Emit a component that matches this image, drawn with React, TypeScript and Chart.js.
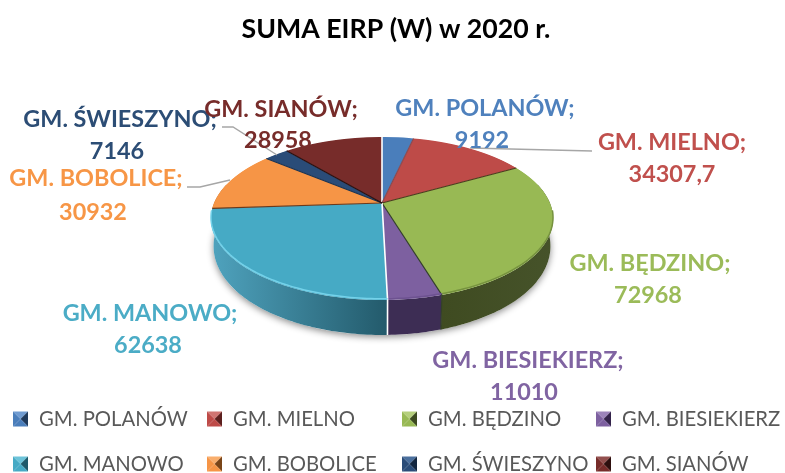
import React, { useEffect, useRef } from "react";
import { Chart, registerables } from "chart.js";

Chart.register(...registerables);

const chartTitle = "SUMA EIRP (W) w 2020 r.";
const categories = ["GM. POLANÓW", "GM. MIELNO", "GM. BĘDZINO", "GM. BIESIEKIERZ", "GM. MANOWO", "GM. BOBOLICE", "GM. ŚWIESZYNO", "GM. SIANÓW"];
const values = [9192, 34307.7, 72968, 11010, 62638, 30932, 7146, 28958];

// styles
const faceColors = ["#4a7ebb", "#be4b48", "#98b954", "#7d60a0", "#46aac5", "#f69546", "#2a4c78", "#772c2a"];
const textColors = ["#4f81bd", "#c0504d", "#9bbb59", "#8064a2", "#4bacc6", "#f79646", "#2c4d75", "#772c2a"];
const wallLeft = ["#3a6291", "#8f3a38", "#3f4b21", "#3d2d54", "#4fa3be", "#b96f30", "#1f3a5c", "#4f1d1c"];
const wallRight = ["#3a6291", "#8f3a38", "#46532a", "#3d2d54", "#235a6b", "#b96f30", "#1f3a5c", "#4f1d1c"];
const seamColors = ["#ffffff", "#8a4a50", "#4a3a1c", "#33402a", "#ffffff", "#6b3a1c", "#1c3350", "#2a1010"];
const rimColors = ["#5c90cc", "#cc5f5c", "#76923f", "#6d5290", "#74d2ea", "#f8a860", "#355c8c", "#843735"];
const markerLight = ["#6f9bd1", "#d07572", "#b5cf7c", "#9c84ba", "#6cc3d9", "#f9ae6d", "#4a6f9d", "#93504e"];
const markerDark = ["#1f3a5c", "#5c1f1e", "#3c4a1f", "#33234a", "#1f5a6b", "#7a4518", "#12263f", "#2e0f0e"];

// layout of texts: [centre x of name, middle y of name, centre x of value, middle y of value]
const labelLayout = [
  [485, 108, 482, 140],
  [672, 142, 672, 174],
  [650, 263, 648, 295],
  [528, 360, 524, 392],
  [150, 313, 148, 345],
  [96, 178, 93, 212],
  [120, 119, 117, 151],
  [281, 109, 278, 140],
];
const leaderLines = [
  [[592, 151], [470, 148]],
  [[222, 127], [233, 127], [277, 155]],
  [[187, 187], [200, 187], [230, 180]],
];
const legendColumns = [13, 207, 402, 596];
const legendRows = [419, 464];

// perspective of the pie plane
const CX = 382, CY = 203, K = 0.19, A = 78.55, B = 167.9;
const H_SIDE = 26, H_FRONT = 35;

const project = (ang: number) => {
  const X = Math.cos(ang), Y = Math.sin(ang);
  const w = 1 / (1 - K * Y);
  return { x: CX + B * X * w, y: CY + A * Y * w, Y };
};

const piePlugin = {
  id: "perspectivePie",
  beforeDatasetsDraw(chart: any) {
    const ctx: CanvasRenderingContext2D = chart.ctx;
    const arcs = chart.getDatasetMeta(0).data;
    const R = arcs[0].outerRadius, ex = arcs[0].x, ey = arcs[0].y;
    const W = chart.width;

    const wallBottom = (a: number) => {
      const p = project(a);
      return { x: CX + (p.x - CX) * 0.985, y: p.y + H_SIDE + (H_FRONT - H_SIDE) * Math.max(0, p.Y) };
    };

    // ground shadow
    ctx.save();
    ctx.shadowColor = "rgba(0,0,0,0.45)";
    ctx.shadowBlur = 7;
    ctx.shadowOffsetY = 2;
    ctx.fillStyle = "#ffffff";
    ctx.beginPath();
    for (let a = 0; a <= Math.PI + 0.001; a += 0.02) {
      const p = wallBottom(a);
      if (a === 0) ctx.moveTo(p.x, p.y); else ctx.lineTo(p.x, p.y);
    }
    ctx.closePath();
    ctx.fill();
    ctx.restore();

    // side walls
    arcs.forEach((el: any, i: number) => {
      const s = Math.max(el.startAngle, -0.25);
      const e = Math.min(el.endAngle, Math.PI + 0.25);
      if (e <= s) return;
      const n = Math.max(2, Math.ceil((e - s) / 0.02));
      const top: any[] = [], bot: any[] = [];
      for (let j = 0; j <= n; j++) {
        const a = s + ((e - s) * j) / n;
        top.push(project(a));
        bot.push(wallBottom(a));
      }
      const xs = top.map((p) => p.x);
      const g = ctx.createLinearGradient(Math.min(...xs), 0, Math.max(...xs), 0);
      g.addColorStop(0, wallLeft[i]);
      g.addColorStop(1, wallRight[i]);
      ctx.fillStyle = g;
      ctx.beginPath();
      top.forEach((p, j) => (j ? ctx.lineTo(p.x, p.y) : ctx.moveTo(p.x, p.y)));
      bot.reverse().forEach((p) => ctx.lineTo(p.x, p.y));
      ctx.closePath();
      ctx.fill();
    });

    // top face: the library's arc elements, one scanline at a time
    for (let row = 130; row < 305; row++) {
      const yc = row + 0.5;
      const w = 1 + (K * (yc - CY)) / A;
      const Y = (w - 1) / (K * w);
      if (Math.abs(Y) > 1) continue;
      const sx = (B * w) / R;
      const sy = (A * w * w) / R;
      ctx.save();
      ctx.beginPath();
      ctx.rect(0, row, W, 1);
      ctx.clip();
      ctx.setTransform(sx, 0, 0, sy, CX - sx * ex, yc - sy * (ey + Y * R));
      arcs.forEach((el: any) => el.draw(ctx));
      ctx.restore();
    }

    // seams and rim (the rim only shows on the near side)
    arcs.forEach((el: any, i: number) => {
      const p = project(el.startAngle);
      ctx.strokeStyle = seamColors[i];
      ctx.lineWidth = seamColors[i] === "#ffffff" ? 1.6 : 1.2;
      ctx.beginPath();
      ctx.moveTo(CX, CY);
      ctx.lineTo(p.x, p.y);
      if (p.Y > 0.5) {
        const b = wallBottom(el.startAngle);
        ctx.lineTo(b.x, b.y);
      }
      ctx.stroke();

      ctx.strokeStyle = rimColors[i];
      ctx.lineWidth = 1.5;
      ctx.beginPath();
      const n = Math.ceil((el.endAngle - el.startAngle) / 0.02);
      let open = false;
      for (let j = 0; j <= n; j++) {
        const a = el.startAngle + ((el.endAngle - el.startAngle) * j) / n;
        const q = project(a);
        if (q.Y < 0.1) { open = false; continue; }
        if (open) ctx.lineTo(q.x, q.y - 1.2); else ctx.moveTo(q.x, q.y - 1.2);
        open = true;
      }
      ctx.stroke();
    });

    // leader lines
    ctx.strokeStyle = "#a6a6a6";
    ctx.lineWidth = 1.4;
    leaderLines.forEach((pts) => {
      ctx.beginPath();
      pts.forEach((p, j) => (j ? ctx.lineTo(p[0], p[1]) : ctx.moveTo(p[0], p[1])));
      ctx.stroke();
    });

    // title
    ctx.textAlign = "center";
    ctx.textBaseline = "middle";
    ctx.fillStyle = "#000000";
    ctx.font = "700 26.7px Lato";
    ctx.fillText(chartTitle, 396, 29);

    // data labels
    ctx.font = "700 23.4px Lato";
    categories.forEach((name, i) => {
      const [nx, ny, vx, vy] = labelLayout[i];
      ctx.fillStyle = textColors[i];
      ctx.fillText(name + ";", nx, ny);
      ctx.fillText(String(values[i]).replace(".", ","), vx, vy);
    });

    // legend
    ctx.textAlign = "left";
    ctx.font = "400 20.3px Lato";
    categories.forEach((name, i) => {
      const x = legendColumns[i % 4];
      const y = legendRows[Math.floor(i / 4)];
      const m = 15, t = y - 7.5, l = x;
      const c = { x: l + m / 2, y: t + m / 2 };
      const tri = (ax: number, ay: number, bx: number, by: number, col: string) => {
        ctx.fillStyle = col;
        ctx.beginPath();
        ctx.moveTo(ax, ay);
        ctx.lineTo(bx, by);
        ctx.lineTo(c.x, c.y);
        ctx.closePath();
        ctx.fill();
      };
      tri(l, t, l + m, t, markerLight[i]);
      tri(l, t, l, t + m, faceColors[i]);
      tri(l + m, t, l + m, t + m, markerDark[i]);
      tri(l, t + m, l + m, t + m, faceColors[i]);
      ctx.fillStyle = "#595959";
      ctx.fillText(name, x + 26, y);
    });
    return false;
  },
};

export default function App() {
  const ref = useRef<HTMLCanvasElement>(null);
  useEffect(() => {
    const chart = new Chart(ref.current as HTMLCanvasElement, {
      type: "pie",
      data: {
        labels: categories,
        datasets: [{ data: values, backgroundColor: faceColors, borderWidth: 0 }],
      },
      options: {
        responsive: false,
        animation: false,
        events: [],
        layout: { padding: { left: 211, right: 232, top: 32, bottom: 99 } },
        plugins: { legend: { display: false }, title: { display: false }, tooltip: { enabled: false } },
      },
      plugins: [piePlugin],
    } as any);
    return () => chart.destroy();
  }, []);
  return (
    <div style={{ position: "fixed", left: 0, top: 0, width: 785, height: 473, background: "#fff" }}>
      <canvas ref={ref} width={785} height={473} style={{ display: "block" }} />
    </div>
  );
}
